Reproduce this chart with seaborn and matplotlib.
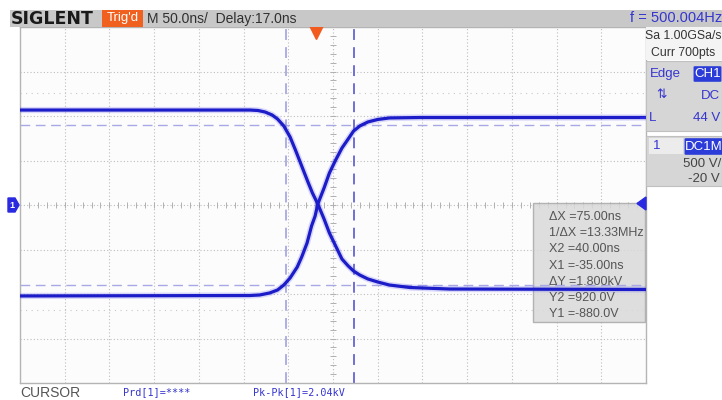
import numpy as np
import pandas as pd
import matplotlib
matplotlib.use('Agg')
import matplotlib.pyplot as plt
import matplotlib.transforms as mtransforms
from matplotlib.patches import Rectangle, Polygon, FancyBboxPatch
import seaborn as sns

# =========================
#  DATA
# =========================

# falling trace: time in ns, voltage in V
fall_t = [-333, -76, -67, -59, -51, -45, -38, -31, -25, -18, -11, -6, 0,
          7, 13, 20, 27, 34, 40, 47, 56, 67, 80, 103, 147, 367]
fall_v = [1087, 1087, 1082, 1065, 1031, 986, 908, 784, 638, 458, 278, 155, 31,
          -137, -295, -441, -587, -665, -722, -767, -811, -845, -879, -907, -924, -929]

# rising trace
rise_t = [-333, -76, -65, -54, -45, -38, -31, -23, -18, -12, -7, -3, 0,
          7, 13, 20, 27, 34, 40, 47, 56, 67, 80, 114, 367]
rise_v = [-1002, -997, -991, -969, -935, -879, -800, -677, -564, -407, -216, -104, 31,
          211, 380, 526, 660, 762, 851, 908, 953, 981, 998, 1003, 1003]

cursor_x = [-35, 40]       # X1, X2 (ns)
cursor_y = [-880, 920]     # Y1, Y2 (V)
faint_y = [-1160, 1278]    # sparse dotted rows seen on the screen

time_div = 50      # ns/div
volt_div = 500     # V/div
delay = 17         # ns
offset = 20        # V at screen centre

cursor_lines = ['\u0394X =75.00ns', '1/\u0394X =13.33MHz', 'X2 =40.00ns', 'X1 =-35.00ns',
                '\u0394Y =1.800kV', 'Y2 =920.0V', 'Y1 =-880.0V']

W, H = 722, 400
BLUE = '#1c1cc8'
TXT_BLUE = '#3535d0'


def px(x, y):
    return x / W, 1 - y / H


def main():
    sns.set_style('white')
    plt.rcParams['font.family'] = ['Liberation Sans', 'DejaVu Sans']

    fig = plt.figure(figsize=(W / 100, H / 100), dpi=100)
    fig.patch.set_facecolor('white')
    ax = fig.add_axes([20 / W, 17 / H, 626 / W, 356 / H])
    ax.set_facecolor('#fdfcfd')

    xmin, xmax = delay - 7 * time_div, delay + 7 * time_div
    ymin, ymax = offset - 4 * volt_div, offset + 4 * volt_div

    # grid
    for k in range(1, 14):
        ax.axvline(xmin + k * time_div, color='#bdbdbd', lw=0.8, ls=(0, (1, 2)), zorder=0)
    for k in range(1, 8):
        ax.axhline(ymin + k * volt_div, color='#bdbdbd', lw=0.8, ls=(0, (1, 2)), zorder=0)
    for yv in faint_y:
        ax.axhline(yv, color='#c8c8c8', lw=0.8, ls=(0, (1, 4)), zorder=0)
    mx = np.arange(xmin, xmax + 1, time_div / 5)
    my = np.arange(ymin, ymax + 1, volt_div / 5)
    ax.plot(mx, np.full_like(mx, offset, dtype=float), ls='none', marker='|', ms=4, mew=0.7,
            color='#b0b0b0', zorder=0)
    ax.plot(np.full_like(my, delay, dtype=float), my, ls='none', marker='_', ms=4, mew=0.7,
            color='#b0b0b0', zorder=0)

    # cursor readout box
    ax.add_patch(Rectangle(px(533, 322), 112 / W, 119 / H, transform=fig.transFigure,
                           facecolor='#d9d9d9', edgecolor='#a8a8a8', lw=1, alpha=0.85, zorder=1))

    # cursors
    ax.axvline(cursor_x[0], color='#a8a8e4', lw=1.3, ls=(0, (6, 4)), zorder=2)
    ax.axvline(cursor_x[1], color='#6565d2', lw=1.3, ls=(0, (6, 4)), zorder=2)
    for yv in cursor_y:
        ax.axhline(yv, color='#a8a8e4', lw=1.0, ls=(0, (7, 4)), zorder=2)

    # traces
    df = pd.concat([
        pd.DataFrame({'t': fall_t, 'v': fall_v, 'trace': 'fall'}),
        pd.DataFrame({'t': rise_t, 'v': rise_v, 'trace': 'rise'}),
    ])
    sns.lineplot(data=df, x='t', y='v', units='trace', estimator=None, sort=False,
                 color='#6a6af0', lw=4.5, alpha=0.25, ax=ax, zorder=3)
    sns.lineplot(data=df, x='t', y='v', units='trace', estimator=None, sort=False,
                 color=BLUE, lw=2.3, ax=ax, zorder=4)

    ax.set_xlim(xmin, xmax)
    ax.set_ylim(ymin, ymax)
    ax.set_xticks([])
    ax.set_yticks([])
    ax.set_xlabel('')
    ax.set_ylabel('')
    for s in ax.spines.values():
        s.set_color('#b4b4b4')
        s.set_linewidth(1)

    # cursor readout text
    for i, line in enumerate(cursor_lines):
        fig.text(*px(549, 217 + i * 16.2), line, fontsize=9, color='#555555',
                 va='center', ha='left', zorder=6)

    # trigger position / level markers
    trans = mtransforms.blended_transform_factory(ax.transData, ax.transAxes)
    ax.plot([-2], [0.985], marker='v', ms=10, color='#f25a1e', transform=trans, clip_on=False, zorder=7)
    fig.add_artist(Polygon([px(646, 197), px(646, 210), px(637, 203.5)], closed=True,
                           transform=fig.transFigure, color='#2a2ae0', zorder=7))
    fig.add_artist(Polygon([px(8, 198), px(15, 198), px(19, 205), px(15, 212), px(8, 212)], closed=True,
                           transform=fig.transFigure, color='#2a2ae0', zorder=7))
    fig.text(*px(12, 205.5), '1', fontsize=6.5, color='white', ha='center', va='center',
             weight='bold', zorder=8)

    # top bar
    fig.add_artist(Rectangle(px(10, 27), (W - 10) / W, 17 / H, transform=fig.transFigure,
                             facecolor='#c8c8c8', edgecolor='none', zorder=5))
    fig.text(*px(11, 18.5), 'SIGLENT', fontsize=12.5, weight='heavy', color='#1a1a1a',
             family='DejaVu Sans', ha='left', va='center', zorder=6)
    fig.add_artist(Rectangle(px(102, 27), 41 / W, 17 / H, transform=fig.transFigure,
                             facecolor='#f0601e', edgecolor='none', zorder=6))
    fig.text(*px(122.5, 18.5), "Trig'd", fontsize=9.5, color='white', ha='center', va='center', zorder=7)
    fig.text(*px(147, 18.5), 'M 50.0ns/  Delay:17.0ns', fontsize=10, color='#303030',
             ha='left', va='center', zorder=6)
    fig.text(*px(722, 18.5), 'f = 500.004Hz', fontsize=10.5, color=TXT_BLUE,
             ha='right', va='center', zorder=6)

    # right side panel
    fig.add_artist(Rectangle(px(646, 60), 76 / W, 33 / H, transform=fig.transFigure,
                             facecolor='#f4f4f4', edgecolor='none', zorder=5))
    fig.text(*px(683, 36), 'Sa 1.00GSa/s', fontsize=8.8, color='#333333', ha='center', va='center',
             zorder=6)
    fig.text(*px(683, 53), 'Curr 700pts', fontsize=8.8, color='#333333', ha='center', va='center',
             zorder=6)
    fig.add_artist(Rectangle(px(646, 131), 76 / W, 70 / H, transform=fig.transFigure,
                             facecolor='#d6d6d6', edgecolor='#c0c0c0', lw=0.8, zorder=5))
    fig.text(*px(650, 74), 'Edge', fontsize=9.5, color=TXT_BLUE, ha='left', va='center', zorder=6)
    fig.add_artist(FancyBboxPatch(px(695, 81), 25 / W, 14 / H, boxstyle='round,pad=0.002',
                                  transform=fig.transFigure, facecolor='#2c3cd8', edgecolor='none', zorder=6))
    fig.text(*px(707.5, 74), 'CH1', fontsize=9.5, color='white', ha='center', va='center', zorder=7)
    fig.text(*px(662, 95), '\u21c5', fontsize=9, color=TXT_BLUE, ha='center', va='center',
             family='DejaVu Sans', zorder=6)
    fig.text(*px(720, 96), 'DC', fontsize=9.5, color=TXT_BLUE, ha='right', va='center', zorder=6)
    fig.text(*px(649, 118), 'L', fontsize=9.5, color=TXT_BLUE, ha='left', va='center', zorder=6)
    fig.text(*px(720, 118), '44 V', fontsize=9.5, color=TXT_BLUE, ha='right', va='center', zorder=6)
    fig.add_artist(Rectangle(px(640, 118.5), 6 / W, 1.5 / H, transform=fig.transFigure,
                             facecolor='#2a2ae0', edgecolor='none', zorder=6))

    fig.add_artist(Rectangle(px(646, 186), 76 / W, 50 / H, transform=fig.transFigure,
                             facecolor='#d6d6d6', edgecolor='#c0c0c0', lw=0.8, zorder=5))
    fig.add_artist(Rectangle(px(649, 154), 34 / W, 16 / H, transform=fig.transFigure,
                             facecolor='#ececec', edgecolor='none', zorder=6))
    fig.text(*px(657, 146), '1', fontsize=9.5, color=TXT_BLUE, ha='center', va='center', zorder=7)
    fig.add_artist(FancyBboxPatch(px(686, 154), 36 / W, 15 / H, boxstyle='round,pad=0.002',
                                  transform=fig.transFigure, facecolor='#2c3cd8', edgecolor='none', zorder=6))
    fig.text(*px(704, 146.5), 'DC1M', fontsize=9.5, color='white', ha='center', va='center', zorder=7)
    fig.text(*px(721, 164), '500 V/', fontsize=9.5, color='#444444', ha='right', va='center', zorder=6)
    fig.text(*px(720, 179), '-20 V', fontsize=9.5, color='#444444', ha='right', va='center', zorder=6)

    # bottom status line
    fig.text(*px(20, 393), 'CURSOR', fontsize=10, color='#555555', ha='left', va='center')
    fig.text(*px(123, 392), 'Prd[1]=****', fontsize=7.3, color=TXT_BLUE, family='DejaVu Sans Mono',
             ha='left', va='center')
    fig.text(*px(253, 392), 'Pk-Pk[1]=2.04kV', fontsize=7.3, color=TXT_BLUE, family='DejaVu Sans Mono',
             ha='left', va='center')

    fig.savefig('out.png', dpi=100)
    plt.close(fig)


if __name__ == '__main__':
    main()
